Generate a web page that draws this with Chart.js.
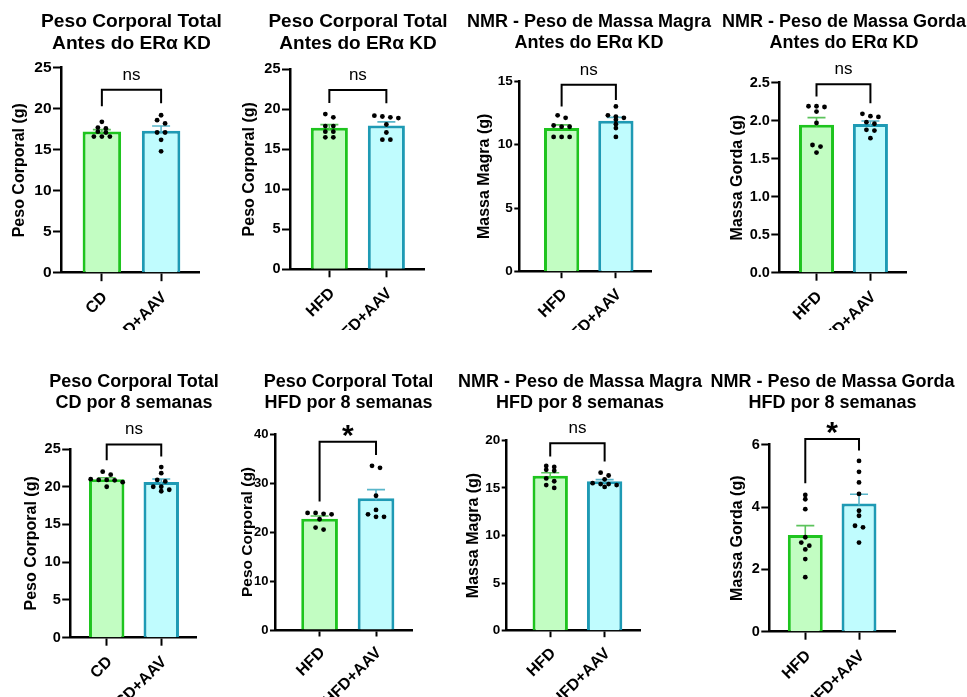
<!DOCTYPE html>
<html><head><meta charset="utf-8">
<script src="https://cdn.jsdelivr.net/npm/chart.js@4.4.1/dist/chart.umd.min.js"></script>
<style>
html,body{margin:0;padding:0;background:#fff;overflow:hidden;width:967px;height:697px;position:relative;}
canvas{position:absolute;}
</style></head><body>
<script>
// ---------------- DATA ----------------
const groupsCD = ['CD', 'CD+AAV'];
const groupsHFD = ['HFD', 'HFD+AAV'];

const panelTitles = [
  ['Peso Corporal Total', 'Antes do ERα KD'],
  ['Peso Corporal Total', 'Antes do ERα KD'],
  ['NMR - Peso de Massa Magra', 'Antes do ERα KD'],
  ['NMR - Peso de Massa Gorda', 'Antes do ERα KD'],
  ['Peso Corporal Total', 'CD por 8 semanas'],
  ['Peso Corporal Total', 'HFD por 8 semanas'],
  ['NMR - Peso de Massa Magra', 'HFD por 8 semanas'],
  ['NMR - Peso de Massa Gorda', 'HFD por 8 semanas']
];
const yAxisTitles = ['Peso Corporal (g)', 'Peso Corporal (g)', 'Massa Magra (g)', 'Massa Gorda (g)',
                     'Peso Corporal (g)', 'Peso Corporal (g)', 'Massa Magra (g)', 'Massa Gorda (g)'];
const yMaxes = [25, 25, 15, 2.5, 25, 40, 20, 6];
const yTickSteps = [5, 5, 5, 0.5, 5, 10, 5, 2];
const yTickDecimals = [0, 0, 0, 1, 0, 0, 0, 0];
const sigLabels = ['ns', 'ns', 'ns', 'ns', 'ns', '*', 'ns', '*'];
const bracketTops = [22.3, 22.4, 14.7, 2.48, 25.6, 38.4, 19.7, 6.18];
const bracketLeftEnds = [20.3, 20.8, 13.0, 2.32, 23.5, 26.2, 18.3, 4.76];
const bracketRightEnds = [20.65, 20.75, 13.5, 2.23, 24.0, 35.7, 17.76, 5.81];

// individual animals
const p1CD      = [18.4, 17.7, 17.6, 17.2, 17.1, 16.6, 16.6, 16.6];
const p1CDAAV   = [19.2, 18.6, 18.2, 17.1, 17.1, 16.2, 14.8];
const p2HFD     = [19.4, 19.0, 17.9, 17.9, 17.2, 17.2, 16.5, 16.5];
const p2HFDAAV  = [19.2, 19.1, 19.0, 18.9, 18.1, 17.1, 16.2, 16.2];
const p3HFD     = [12.3, 12.1, 11.5, 11.4, 11.4, 10.6, 10.6, 10.6];
const p3HFDAAV  = [13.0, 12.3, 12.2, 12.1, 11.95, 11.6, 11.3, 10.6];
const p4HFD     = [2.19, 2.19, 2.18, 2.12, 1.97, 1.68, 1.66, 1.58];
const p4HFDAAV  = [2.09, 2.06, 2.05, 1.98, 1.96, 1.88, 1.87, 1.77];
const p5CD      = [22.0, 21.6, 21.0, 20.9, 20.9, 20.85, 20.6, 20.0];
const p5CDAAV   = [22.6, 21.8, 20.9, 20.7, 20.0, 20.0, 19.6, 19.4];
const p6HFD     = [23.9, 23.9, 23.7, 23.6, 22.6, 20.9, 20.5];
const p6HFDAAV  = [33.5, 33.1, 27.4, 24.5, 23.6, 23.1, 23.1];
const p7HFD     = [17.3, 17.2, 16.9, 16.8, 16.0, 15.7, 15.3, 15.0];
const p7HFDAAV  = [16.6, 16.3, 15.9, 15.5, 15.4, 15.4, 15.3, 15.1];
const p8HFD     = [4.39, 4.25, 3.93, 3.03, 2.86, 2.76, 2.64, 2.33, 1.75];
const p8HFDAAV  = [5.48, 5.13, 4.79, 4.42, 3.88, 3.72, 3.40, 3.35, 2.86];

const panelGroups = [groupsCD, groupsHFD, groupsHFD, groupsHFD, groupsCD, groupsHFD, groupsHFD, groupsHFD];
const panelValues = [
  [p1CD, p1CDAAV], [p2HFD, p2HFDAAV], [p3HFD, p3HFDAAV], [p4HFD, p4HFDAAV],
  [p5CD, p5CDAAV], [p6HFD, p6HFDAAV], [p7HFD, p7HFDAAV], [p8HFD, p8HFDAAV]
];

// ---------------- LAYOUT / STYLE ----------------
const panelBoxes = [
  {left:0,   top:0,   w:263, h:330, L:61,    T:67.7,  R:199,   B:272.7, yT:19.5,  yf:16,   xMin:-0.69, xMax:1.64, ts:19.2, tf:15.5, ytl:8,  xtl:8.5},
  {left:230, top:0,   w:256, h:330, L:290,   T:69.3,  R:424,   B:269.3, yT:249.5, yf:16,   xMin:-0.69, xMax:1.66, ts:19,   tf:14.5, ytl:8,  xtl:8},
  {left:465, top:0,   w:248, h:330, L:519.3, T:81,    R:651.7, B:271.7, yT:485,   yf:16,   xMin:-0.78, xMax:1.66, ts:18,   tf:13.5, ytl:5,  xtl:6.5},
  {left:720, top:0,   w:248, h:330, L:779.3, T:82.7,  R:906,   B:272.7, yT:737.8, yf:16,   xMin:-0.69, xMax:1.66, ts:18,   tf:14.5, ytl:8,  xtl:8},
  {left:0,   top:360, w:268, h:337, L:70.7,  T:449,   R:196.7, B:637.7, yT:31.8,  yf:16,   xMin:-0.66, xMax:1.65, ts:18,   tf:14.5, ytl:8.5,xtl:8},
  {left:236, top:360, w:225, h:337, L:275,   T:434,   R:412.7, B:630,   yT:247.5, yf:15.5, xMin:-0.79, xMax:1.65, ts:18,   tf:13,   ytl:5,  xtl:6.5},
  {left:446, top:360, w:268, h:337, L:506.7, T:440.3, R:640,   B:630.7, yT:474,   yf:16,   xMin:-0.80, xMax:1.65, ts:18,   tf:13.5, ytl:5,  xtl:6.5},
  {left:705, top:360, w:255, h:337, L:769.3, T:444.7, R:895,   B:631.7, yT:737.8, yf:16,   xMin:-0.67, xMax:1.67, ts:18,   tf:14.5, ytl:8,  xtl:8}
];
const FAMILY = "'Liberation Sans', Arial, Helvetica, sans-serif";
const fillColors = ['#c2fdc2', '#c0fcfe'];
const borderColors = ['#1ec41e', '#1e9ab4'];
const errColors = ['#5cc35c', '#5ab6ca'];
const TITLE_LH = 21.6;
const DOT_R = 2.4, DOT_SPACING = 8, ROW_GAP = 3.5;

Chart.defaults.font.family = FAMILY;
Chart.defaults.color = '#000';

function mean(a) { return a.reduce((s, v) => s + v, 0) / a.length; }
function sem(a) {
  const m = mean(a);
  const sd = Math.sqrt(a.reduce((s, v) => s + (v - m) * (v - m), 0) / (a.length - 1));
  return sd / Math.sqrt(a.length);
}
function dotOffsets(vals, yScale) {
  const idx = vals.map((v, i) => i).sort((a, b) => vals[b] - vals[a]);
  const rows = [];
  idx.forEach(i => {
    const py = yScale.getPixelForValue(vals[i]);
    const row = rows[rows.length - 1];
    if (row && Math.abs(py - row.py) < ROW_GAP) row.items.push(i);
    else rows.push({py, items: [i]});
  });
  const off = new Array(vals.length);
  rows.forEach(r => r.items.forEach((i, k) => { off[i] = (k - (r.items.length - 1) / 2) * DOT_SPACING; }));
  return off;
}

function makeOverlay(p) {
  return {
    id: 'overlay' + p,
    afterDatasetsDraw(chart) {
      const {ctx, scales: {x, y}} = chart;
      const vals = panelValues[p];
      ctx.save();
      // error bars (mean + SEM)
      vals.forEach((arr, k) => {
        const m = mean(arr), s = sem(arr);
        const cx = x.getPixelForValue(k);
        const yTop = y.getPixelForValue(m + s);
        const yMean = y.getPixelForValue(m);
        ctx.strokeStyle = errColors[k];
        ctx.lineWidth = 1.6;
        ctx.beginPath();
        ctx.moveTo(cx, yMean + 2); ctx.lineTo(cx, yTop);
        ctx.moveTo(cx - 9, yTop); ctx.lineTo(cx + 9, yTop);
        ctx.stroke();
      });
      // individual points
      ctx.fillStyle = '#000';
      vals.forEach((arr, k) => {
        const off = dotOffsets(arr, y);
        const cx = x.getPixelForValue(k);
        arr.forEach((v, i) => {
          ctx.beginPath();
          ctx.arc(cx + off[i], y.getPixelForValue(v), DOT_R, 0, Math.PI * 2);
          ctx.fill();
        });
      });
      // significance bracket
      const x0 = x.getPixelForValue(0), x1 = x.getPixelForValue(1);
      const yb = y.getPixelForValue(bracketTops[p]);
      ctx.strokeStyle = '#000';
      ctx.lineWidth = 2;
      ctx.beginPath();
      ctx.moveTo(x0, y.getPixelForValue(bracketLeftEnds[p]));
      ctx.lineTo(x0, yb); ctx.lineTo(x1, yb);
      ctx.lineTo(x1, y.getPixelForValue(bracketRightEnds[p]));
      ctx.stroke();
      ctx.textAlign = 'center';
      ctx.textBaseline = 'alphabetic';
      if (sigLabels[p] === '*') {
        ctx.font = 'bold 30px ' + FAMILY;
        ctx.fillText(sigLabels[p], (x0 + x1) / 2, yb + 3);
      } else {
        ctx.font = '17px ' + FAMILY;
        ctx.fillText(sigLabels[p], (x0 + x1) / 2, yb - 10);
      }
      ctx.restore();
    }
  };
}

panelBoxes.forEach((g, p) => {
  const canvas = document.createElement('canvas');
  canvas.width = g.w; canvas.height = g.h;
  canvas.style.left = g.left + 'px'; canvas.style.top = g.top + 'px';
  canvas.style.width = g.w + 'px'; canvas.style.height = g.h + 'px';
  document.body.appendChild(canvas);

  const groups = panelGroups[p];
  const vals = panelValues[p];
  const titlePadTop = 15 + 0.37 * g.ts - TITLE_LH / 2;
  const titlePadBottom = g.T - g.top - (titlePadTop + 2 * TITLE_LH);
  const gridX = {display: true, offset: false, drawOnChartArea: false, drawTicks: true, tickLength: g.xtl, tickWidth: 2, tickColor: '#000'};
  const gridY = {display: true, offset: false, drawOnChartArea: false, drawTicks: true, tickLength: g.ytl, tickWidth: 2, tickColor: '#000'};
  const borderOpts = {display: true, color: '#000', width: 2.5};

  new Chart(canvas, {
    type: 'bar',
    data: {
      datasets: [{
        data: vals.map((a, k) => ({x: k, y: mean(a)})),
        backgroundColor: fillColors,
        borderColor: borderColors,
        borderWidth: 3,
        barPercentage: 0.65,
        categoryPercentage: 1
      }]
    },
    options: {
      responsive: false,
      animation: false,
      devicePixelRatio: 1,
      events: [],
      layout: {padding: 0},
      plugins: {
        legend: {display: false},
        tooltip: {enabled: false},
        title: {
          display: true, text: panelTitles[p], color: '#000',
          font: {size: g.ts, weight: 'bold', lineHeight: TITLE_LH + 'px'},
          padding: {top: titlePadTop, bottom: titlePadBottom}
        }
      },
      scales: {
        x: {
          type: 'linear', min: g.xMin, max: g.xMax, z: 1, offset: false,
          afterBuildTicks: s => { s.ticks = groups.map((_, k) => ({value: k})); },
          afterFit: s => { s.height = g.top + g.h - g.B; },
          ticks: {
            autoSkip: false, minRotation: 45, maxRotation: 45, padding: 7, labelOffset: 3, color: '#000',
            font: {size: 16, weight: 'bold'},
            callback: v => groups[v]
          },
          grid: gridX, border: borderOpts
        },
        y: {
          min: 0, max: yMaxes[p], z: 1,
          afterFit: s => { s.width = g.L - g.left; },
          ticks: {
            stepSize: yTickSteps[p], padding: 1.5, color: '#000',
            font: {size: g.tf, weight: 'bold'},
            callback: v => Number(v).toFixed(yTickDecimals[p])
          },
          grid: gridY, border: borderOpts,
          title: {
            display: true, text: yAxisTitles[p], color: '#000',
            font: {size: g.yf, weight: 'bold', lineHeight: 1.2},
            padding: {top: g.yT - g.left - g.yf * 0.6, bottom: 0}
          }
        },
        spacer: {
          type: 'linear', position: 'right', display: true,
          afterFit: s => { s.width = g.left + g.w - g.R; },
          ticks: {display: false},
          grid: {display: false, drawTicks: false},
          border: {display: false}
        }
      }
    },
    plugins: [makeOverlay(p)]
  });
});
</script>
</body></html>
